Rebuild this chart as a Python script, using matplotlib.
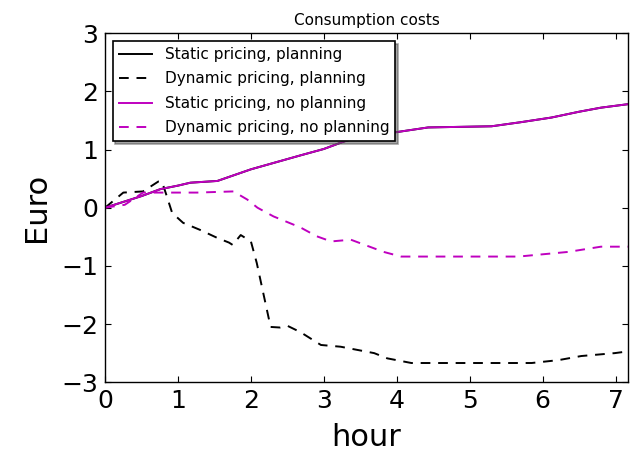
import matplotlib
matplotlib.use('Agg')
from matplotlib import pyplot as plt

# static pricing (planning and no planning lie on top of each other)
hour_static = [0.0, 0.25, 0.5, 0.76, 1.0, 1.17, 1.54, 2.0, 2.68, 3.0, 3.28, 3.6, 4.0,
               4.43, 5.3, 5.7, 6.12, 6.5, 6.8, 7.17]
static_planning = [0.0, 0.1, 0.2, 0.32, 0.38, 0.43, 0.46, 0.66, 0.9, 1.01, 1.14, 1.25, 1.3,
                   1.38, 1.40, 1.47, 1.55, 1.65, 1.72, 1.78]
static_no_planning = static_planning

hour_dyn_plan = [0.0, 0.25, 0.52, 0.73, 0.78, 0.83, 0.92, 1.07, 1.3, 1.54, 1.7, 1.75, 1.86,
                 2.0, 2.08, 2.18, 2.27, 2.4, 2.5, 2.68, 2.96, 3.23, 3.69, 3.87, 4.2, 5.85,
                 6.22, 6.53, 6.99, 7.17]
dyn_planning = [0.0, 0.26, 0.28, 0.45, 0.45, 0.26, -0.09, -0.26, -0.38, -0.52, -0.6, -0.64,
                -0.47, -0.58, -0.95, -1.53, -2.05, -2.06, -2.03, -2.14, -2.36, -2.39, -2.5,
                -2.59, -2.67, -2.67, -2.62, -2.55, -2.5, -2.47]

hour_dyn_noplan = [0.0, 0.27, 0.52, 0.94, 1.26, 1.76, 1.95, 2.09, 2.31, 2.68, 2.9, 3.1, 3.37,
                   3.82, 4.06, 4.98, 5.67, 6.35, 6.8, 7.17]
dyn_no_planning = [0.0, 0.05, 0.26, 0.26, 0.26, 0.28, 0.14, 0.0, -0.15, -0.34, -0.49, -0.58,
                   -0.55, -0.76, -0.84, -0.84, -0.84, -0.76, -0.67, -0.67]

fig = plt.figure(figsize=(6.33, 4.55), dpi=100, facecolor='white')
ax = fig.add_axes([0.166, 0.160, 0.826, 0.767])

lw = 1.4
ax.plot(hour_static, static_planning, color='k', linestyle='-', linewidth=lw,
        label='Static pricing, planning')
ax.plot(hour_dyn_plan, dyn_planning, color='k', linestyle='--', dashes=(5, 4), linewidth=lw,
        label='Dynamic pricing, planning')
ax.plot(hour_static, static_no_planning, color='m', linestyle='-', linewidth=lw,
        label='Static pricing, no planning')
ax.plot(hour_dyn_noplan, dyn_no_planning, color='m', linestyle='--', dashes=(5, 4), linewidth=lw,
        label='Dynamic pricing, no planning')

ax.set_xlim(0, 7.17)
ax.set_ylim(-3, 3)
ax.set_xticks(range(0, 8))
ax.set_yticks(range(-3, 4))
ax.tick_params(direction='in', top=True, right=True, labelsize=18, length=4, pad=5)
for s in ax.spines.values():
    s.set_linewidth(1)

ax.set_title('Consumption costs', fontsize=11)
ax.set_xlabel('hour', fontsize=22, labelpad=7)
ax.set_ylabel('Euro', fontsize=22, labelpad=7)

leg = ax.legend(loc='upper left', fontsize=11, shadow=True, fancybox=False,
                handlelength=2.2, borderpad=0.4, labelspacing=0.62, framealpha=1,
                borderaxespad=0.5)
leg.get_frame().set_edgecolor('k')
leg.get_frame().set_linewidth(1.2)

fig.savefig('out.png', dpi=100, facecolor='white')
